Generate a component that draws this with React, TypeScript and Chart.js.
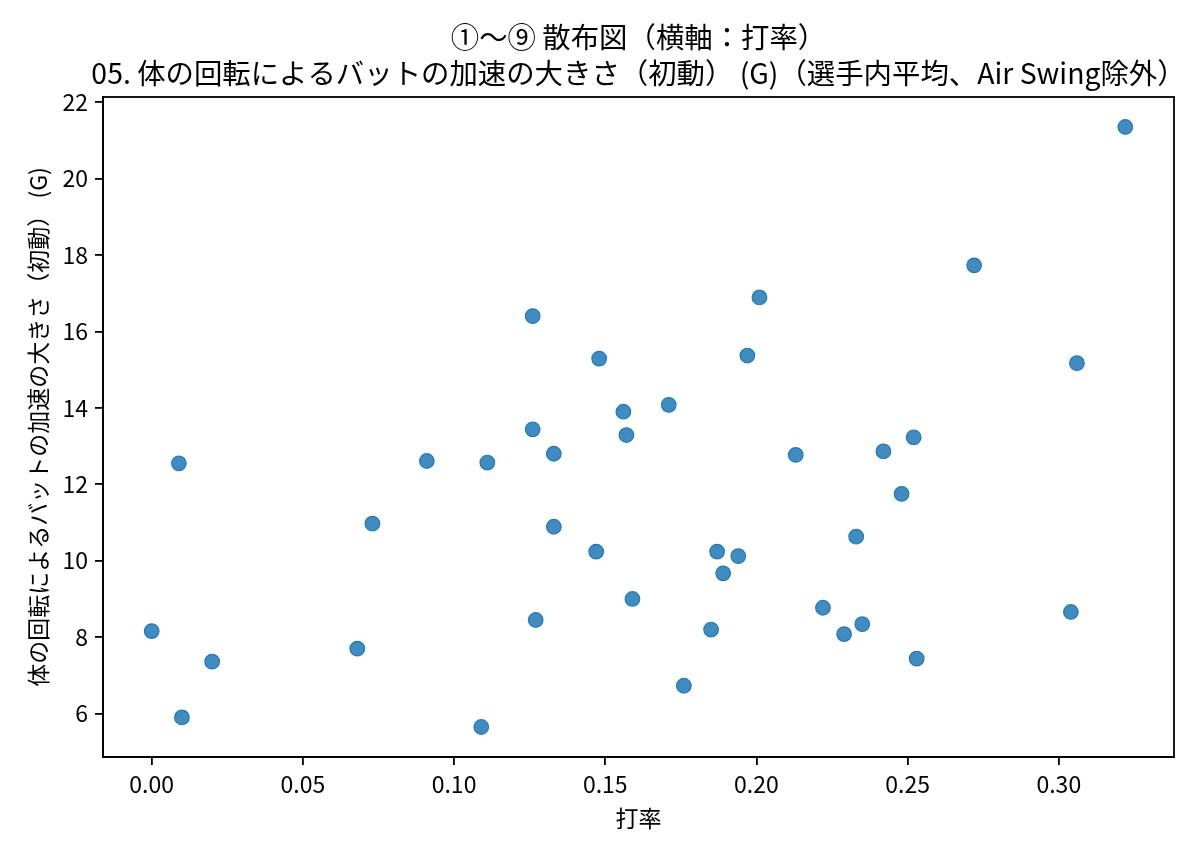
import React, { useEffect, useRef } from "react";
import { Chart, registerables } from "chart.js";

Chart.register(...registerables);

const battingAvg: number[] = [
  0.322, 0.272, 0.201, 0.126, 0.148, 0.197, 0.306, 0.156, 0.171, 0.126,
  0.157, 0.252, 0.242, 0.213, 0.133, 0.009, 0.091, 0.111, 0.248, 0.073,
  0.133, 0.233, 0.147, 0.187, 0.194, 0.189, 0.159, 0.222, 0.304, 0.127,
  0.235, 0.229, 0.185, 0.0, 0.068, 0.02, 0.253, 0.176, 0.01, 0.109,
];
const accelG: number[] = [
  21.35, 17.73, 16.89, 16.4, 15.29, 15.37, 15.17, 13.9, 14.08, 13.44,
  13.29, 13.23, 12.86, 12.77, 12.8, 12.55, 12.61, 12.57, 11.75, 10.97,
  10.89, 10.63, 10.24, 10.24, 10.12, 9.67, 9.0, 8.77, 8.66, 8.45,
  8.34, 8.08, 8.2, 8.16, 7.7, 7.36, 7.44, 6.73, 5.9, 5.65,
];
const xTickValues: number[] = [0, 0.05, 0.1, 0.15, 0.2, 0.25, 0.3];
const yTickValues: number[] = [6, 8, 10, 12, 14, 16, 18, 20, 22];

const titleLines: string[] = [
  "①〜⑨ 散布図（横軸：打率）",
  "05. 体の回転によるバットの加速の大きさ（初動） (G)（選手内平均、Air Swing除外）",
];
const xLabel = "打率";
const yLabel = "体の回転によるバットの加速の大きさ（初動） (G)";

const FONT = "'Noto Sans CJK JP', 'Noto Sans', sans-serif";

function paddedRange(vals: number[]): [number, number] {
  const mn = Math.min(...vals);
  const mx = Math.max(...vals);
  const pad = (mx - mn) * 0.05;
  return [mn - pad, mx + pad];
}

export default function App() {
  const ref = useRef<HTMLCanvasElement | null>(null);

  useEffect(() => {
    document.body.style.margin = "0";
    const canvas = ref.current;
    if (!canvas) return;
    const [xMin, xMax] = paddedRange(battingAvg);
    const [yMin, yMax] = paddedRange(accelG);

    const framePlugin = {
      id: "frameAndTitle",
      afterDraw(chart: any) {
        const { ctx, chartArea } = chart;
        ctx.save();
        ctx.strokeStyle = "#000";
        ctx.lineWidth = 1.8;
        ctx.strokeRect(
          chartArea.left,
          chartArea.top,
          chartArea.right - chartArea.left,
          chartArea.bottom - chartArea.top
        );
        ctx.fillStyle = "#000";
        ctx.textAlign = "center";
        ctx.textBaseline = "middle";
        ctx.font = `28.4px ${FONT}`;
        const cx = (chartArea.left + chartArea.right) / 2;
        ctx.fillText(titleLines[0], cx, 37);
        ctx.fillText(titleLines[1], cx, 73);
        ctx.restore();
      },
    };

    const chart = new Chart(canvas, {
      type: "scatter",
      data: {
        datasets: [
          {
            data: battingAvg.map((x, i) => ({ x, y: accelG[i] })),
            backgroundColor: "rgba(31,119,180,0.85)",
            borderColor: "rgba(31,119,180,0.95)",
            borderWidth: 1.2,
            pointRadius: 7.3,
            pointHoverRadius: 7.3,
          },
        ],
      },
      options: {
        animation: false,
        responsive: false,
        devicePixelRatio: 1,
        layout: { padding: { top: 97, right: 26, left: 0, bottom: 0 } },
        plugins: {
          legend: { display: false },
          tooltip: { enabled: false },
          title: { display: false },
        },
        scales: {
          x: {
            type: "linear",
            min: xMin,
            max: xMax,
            afterBuildTicks: (scale: any) => {
              scale.ticks = xTickValues.map((v) => ({ value: v }));
            },
            afterFit: (scale: any) => {
              scale.height = 100;
            },
            grid: {
              drawOnChartArea: false,
              drawTicks: true,
              tickLength: 8,
              color: "#000",
              lineWidth: 1.8,
            },
            border: { display: true, color: "#000", width: 1.8 },
            ticks: {
              color: "#000",
              padding: 5,
              font: { family: FONT, size: 23 },
              callback: (v: any) => Number(v).toFixed(2),
              maxRotation: 0,
              autoSkip: false,
            },
            title: {
              display: true,
              text: xLabel,
              color: "#000",
              font: { family: FONT, size: 23 },
              padding: { top: 0, bottom: 25 },
            },
          },
          y: {
            type: "linear",
            min: yMin,
            max: yMax,
            afterBuildTicks: (scale: any) => {
              scale.ticks = yTickValues.map((v) => ({ value: v }));
            },
            afterFit: (scale: any) => {
              scale.width = 103;
            },
            grid: {
              drawOnChartArea: false,
              drawTicks: true,
              tickLength: 8,
              color: "#000",
              lineWidth: 1.8,
            },
            border: { display: true, color: "#000", width: 1.8 },
            ticks: {
              color: "#000",
              padding: 7,
              font: { family: FONT, size: 23 },
              callback: (v: any) => String(Math.round(Number(v))),
              autoSkip: false,
            },
            title: {
              display: true,
              text: yLabel,
              color: "#000",
              font: { family: FONT, size: 23 },
              padding: { top: 24, bottom: 0 },
            },
          },
        },
      },
      plugins: [framePlugin],
    } as any);

    return () => {
      chart.destroy();
    };
  }, []);

  return (
    <div style={{ width: 1200, height: 857, background: "#fff" }}>
      <canvas ref={ref} width={1200} height={857} style={{ width: 1200, height: 857, display: "block" }} />
    </div>
  );
}
